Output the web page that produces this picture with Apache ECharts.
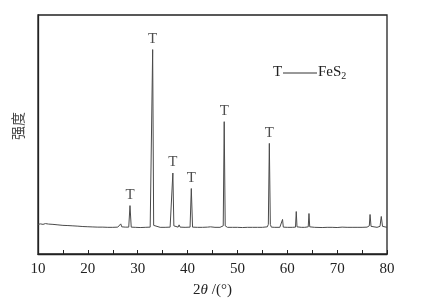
<!DOCTYPE html>
<html>
<head>
<meta charset="utf-8">
<script src="https://cdn.jsdelivr.net/npm/echarts@6/dist/echarts.min.js"></script>
<style>
  html, body { margin: 0; padding: 0; background: #fff; }
  #main { width: 427px; height: 303px; }
</style>
</head>
<body>
<div id="main"></div>
<script>
// XRD pattern, 2theta in degrees
const angles = [
  10.0, 10.5, 11.0, 11.5, 11.8, 12.1, 13.0, 14.0, 15.0, 16.0, 17.0, 18.0, 19.0, 20.0,
  21.0, 22.0, 23.0, 24.0, 25.0, 26.0, 26.4, 26.6, 26.8, 27.5, 28.2, 28.45, 28.7,
  29.5, 30.5, 31.5, 32.5, 32.8, 33.0, 33.2, 33.5, 34.5, 35.5, 36.5, 36.85, 37.05,
  37.25, 37.6, 38.1, 38.3, 38.5, 39.5, 40.5, 40.75, 41.0, 42.0, 43.0, 44.0, 44.4,
  44.6, 45.5, 46.5, 47.15, 47.35, 47.55, 48.0, 49.0, 50.0, 51.0, 52.0, 53.0, 54.0,
  55.0, 56.0, 56.2, 56.4, 56.6, 56.8, 57.5, 58.5, 58.9, 59.05, 59.2, 60.0, 61.0,
  61.65, 61.8, 61.95, 62.8, 63.5, 64.2, 64.35, 64.5, 65.5, 67.0, 68.0, 69.0, 70.0,
  71.0, 72.0, 73.0, 74.0, 75.0, 76.0, 76.45, 76.6, 76.8, 77.2, 78.0, 78.6, 78.85,
  79.1, 79.5, 80.0
];
const intensity = [
  300, 305, 300, 308, 318, 303, 300, 295, 290, 288, 285, 282, 278, 276,
  274, 272, 272, 270, 270, 272, 275, 305, 275, 272, 272, 490, 272,
  270, 268, 270, 272, 285, 2070, 290, 272, 270, 270, 272, 285, 820,
  285, 272, 272, 295, 272, 270, 272, 663, 272, 270, 270, 272, 292,
  275, 270, 270, 285, 1340, 285, 270, 270, 270, 268, 270, 270, 270,
  270, 275, 300, 1120, 300, 272, 270, 270, 272, 350, 272, 270, 270,
  272, 430, 275, 270, 270, 275, 410, 275, 270, 268, 270, 270, 268,
  272, 270, 270, 270, 270, 272, 285, 400, 280, 272, 270, 280, 380,
  280, 270, 270
];
// FeS2 peaks marked with "T"
const peakAngles = [28.45, 33.0, 37.05, 40.75, 47.35, 56.4];
const xTicks = [10, 20, 30, 40, 50, 60, 70, 80];

const serif = "Liberation Serif";

var myChart = echarts.init(document.getElementById("main"));

var option = {
  animation: false,
  grid: {
    left: 38,
    top: 15,
    right: 40,
    bottom: 46,
    show: true,
    borderColor: "#222",
    borderWidth: 1.3,
  },
  xAxis: {
    type: "value",
    min: xTicks[0],
    max: xTicks[xTicks.length - 1],
    interval: 10,
    name: "{n|2}{i|θ}{n| /(°)}",
    nameLocation: "middle",
    nameGap: 29,
    nameTextStyle: {
      rich: {
        n: { fontFamily: serif, fontSize: 15, color: "#222" },
        i: { fontFamily: serif, fontSize: 15, fontStyle: "italic", color: "#222" },
      },
    },
    axisLine: { lineStyle: { color: "#222", width: 1.3 } },
    axisTick: { inside: true, length: 4, lineStyle: { color: "#222" } },
    minorTick: { show: true, splitNumber: 2, length: 4, lineStyle: { color: "#222" } },
    axisLabel: { fontFamily: serif, fontSize: 15, color: "#222", margin: 8 },
    splitLine: { show: false },
  },
  yAxis: {
    type: "value",
    min: 0,
    max: 2420,
    axisLine: { show: true, lineStyle: { color: "#222", width: 1.3 } },
    axisTick: { show: false },
    axisLabel: { show: false },
    splitLine: { show: false },
  },
  series: [
    {
      type: "line",
      data: angles.map((a, i) => [a, intensity[i]]),
      showSymbol: false,
      lineStyle: { color: "#4a4a4a", width: 1 },
    },
    {
      type: "scatter",
      symbolSize: 0,
      data: peakAngles.map((a) => [a, intensity[angles.indexOf(a)]]),
      label: {
        show: true,
        position: "top",
        distance: 3,
        formatter: "T",
        fontFamily: serif,
        fontSize: 15,
        color: "#222",
      },
    },
  ],
  graphic: [
    {
      // y axis title
      type: "text",
      x: 18,
      y: 126,
      rotation: Math.PI / 2,
      style: {
        text: "强度",
        font: "14px 'Noto Sans CJK SC'",
        fill: "#444",
        align: "center",
        verticalAlign: "middle",
      },
    },
    {
      type: "text",
      left: 273,
      top: 65,
      style: { text: "T", font: "15px 'Liberation Serif'", fill: "#222" },
    },
    {
      type: "line",
      shape: { x1: 283, y1: 73, x2: 317, y2: 73 },
      style: { stroke: "#333", lineWidth: 1 },
    },
    {
      type: "text",
      left: 318,
      top: 65,
      style: {
        text: "FeS{s|2}",
        font: "15px 'Liberation Serif'",
        fill: "#222",
        rich: { s: { fontFamily: serif, fontSize: 10, verticalAlign: "bottom", padding: [8, 0, 0, 0] } },
      },
    },
  ],
};

myChart.setOption(option);
</script>
</body>
</html>
